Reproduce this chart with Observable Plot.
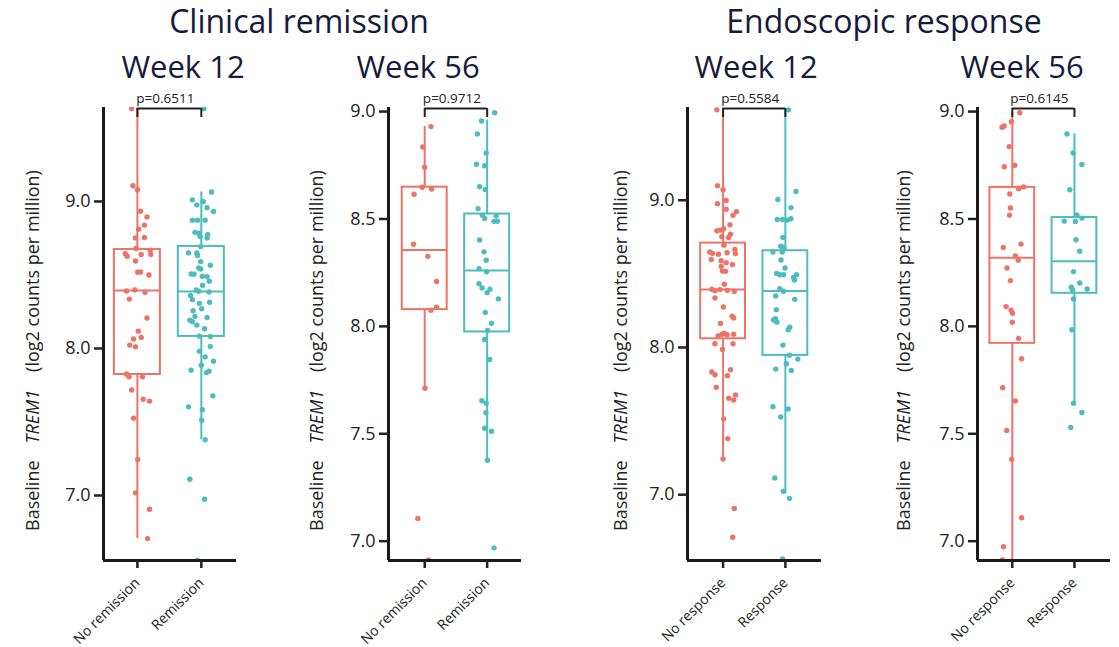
<!DOCTYPE html>
<html>
<head>
<meta charset="utf-8">
<script src="https://cdn.jsdelivr.net/npm/d3@7"></script>
<script src="https://cdn.jsdelivr.net/npm/@observablehq/plot@0.6"></script>
<style>
  html, body { margin: 0; padding: 0; background: #fff; }
  #wrap { position: relative; width: 1119px; height: 647px; overflow: hidden; font-family: "Open Sans", sans-serif; }
  #wrap > svg { position: absolute; top: 0; }
</style>
</head>
<body>
<div id="wrap"></div>
<script>
// ---------------- DATA ----------------
const groupTitles = ["Clinical remission", "Endoscopic response"];
const weekTitles = ["Week 12", "Week 56", "Week 12", "Week 56"];
const catsRemission = ["No remission", "Remission"];
const catsResponse = ["No response", "Response"];
const pValues = ["p=0.6511", "p=0.9712", "p=0.5584", "p=0.6145"];
const yTicksWide = [7, 8, 9];
const yTicksFine = [7, 7.5, 8, 8.5, 9];

// points: [log2 CPM, horizontal jitter (fraction of category spacing)]
const cr12_no = [[9.632,-0.09],[9.107,-0.07],[9.08,0],[8.934,0.05],[8.895,0.15],[8.839,0.11],[8.811,0.02],[8.755,0.11],[8.752,-0.03],[8.68,-0.02],[8.668,0.2],[8.645,-0.19],[8.627,-0.16],[8.639,0.06],[8.639,0.21],[8.595,-0.03],[8.518,0.005],[8.52,0.05],[8.5,0.18],[8.391,-0.17],[8.398,-0.04],[8.382,0.12],[8.336,-0.125],[8.207,0.15],[8.118,0.015],[8.064,-0.06],[8.075,0.06],[8.023,-0.12],[8.011,-0.03],[7.827,-0.17],[7.807,-0.13],[7.807,0.08],[7.718,-0.09],[7.655,0.09],[7.642,0.19],[7.526,-0.06],[7.245,0.005],[7.018,-0.03],[6.907,0.19],[6.707,0.16]];
const cr12_yes = [[9.632,0.04],[9.064,0.16],[9.011,-0.14],[9.0,0.03],[8.977,-0.07],[8.957,0.09],[8.932,0.19],[8.873,-0.14],[8.873,-0.06],[8.873,0.06],[8.79,-0.10],[8.784,-0.04],[8.775,0.10],[8.761,-0.02],[8.752,0.09],[8.693,-0.01],[8.65,-0.20],[8.65,-0.07],[8.632,-0.06],[8.591,-0.01],[8.566,0.14],[8.548,-0.04],[8.541,-0.01],[8.507,-0.16],[8.505,-0.115],[8.491,0.015],[8.489,0.09],[8.457,0.125],[8.43,0.02],[8.398,-0.08],[8.389,-0.04],[8.384,0.12],[8.361,-0.17],[8.332,-0.14],[8.314,0.13],[8.307,-0.03],[8.257,-0.13],[8.27,0.005],[8.218,-0.10],[8.211,0.09],[8.193,-0.18],[8.182,-0.14],[8.159,-0.07],[8.134,0.05],[8.084,-0.03],[8.082,0.14],[7.982,-0.03],[8.014,0.14],[7.943,0.06],[7.914,0.19],[7.852,-0.16],[7.886,0],[7.836,0.08],[7.845,0.12],[7.678,0.18],[7.603,-0.2],[7.583,0.015],[7.512,0.005],[7.379,0.06],[7.111,-0.18],[6.975,0.05],[6.558,-0.06]];
const cr56_no = [[8.93,0.10],[8.835,-0.03],[8.741,0],[8.648,-0.04],[8.639,0.11],[8.615,-0.17],[8.382,-0.18],[8.326,0.05],[8.209,0.19],[8.075,0.10],[8.089,0.19],[7.712,0.005],[7.106,-0.11],[6.913,0.06]];
const cr56_yes = [[8.995,0.12],[8.956,-0.09],[8.896,-0.155],[8.807,-0.015],[8.755,-0.17],[8.748,-0.04],[8.65,-0.12],[8.637,-0.03],[8.548,-0.145],[8.517,-0.075],[8.502,-0.04],[8.514,0.145],[8.489,0.11],[8.489,0.165],[8.402,-0.12],[8.347,-0.05],[8.308,-0.015],[8.269,-0.13],[8.254,-0.01],[8.199,-0.13],[8.179,-0.08],[8.173,0.045],[8.157,0],[8.128,0.18],[8.065,-0.03],[8.014,0.07],[7.981,0.005],[7.939,-0.04],[7.846,0.04],[7.654,-0.085],[7.642,-0.015],[7.598,-0.02],[7.526,-0.04],[7.512,0.07],[7.377,0.005],[6.969,0.11]];
const er12_no = [[9.614,-0.10],[9.099,-0.09],[9.072,0],[8.977,-0.09],[8.998,0.05],[8.939,0.05],[8.923,0.215],[8.898,0.16],[8.833,0.11],[8.792,-0.10],[8.797,-0.05],[8.806,0.01],[8.77,0.12],[8.747,0.09],[8.752,-0.02],[8.695,0.015],[8.648,-0.215],[8.639,-0.17],[8.634,-0.075],[8.643,0.065],[8.666,0.19],[8.637,0.20],[8.598,-0.19],[8.589,-0.03],[8.576,0.05],[8.564,0.15],[8.551,-0.03],[8.519,-0.01],[8.517,0.04],[8.429,0.02],[8.395,-0.18],[8.386,-0.13],[8.393,-0.05],[8.388,0.07],[8.381,0.18],[8.336,-0.13],[8.275,0.005],[8.212,0.145],[8.201,0.17],[8.163,-0.04],[8.09,-0.015],[8.097,0.02],[8.086,0.065],[8.079,-0.08],[8.09,0.17],[8.025,-0.13],[7.986,-0.01],[8.025,0.16],[7.833,-0.18],[7.815,-0.13],[7.808,0.07],[7.849,0.12],[7.729,-0.11],[7.655,0.09],[7.643,0.17],[7.677,0.20],[7.515,0.01],[7.381,0.075],[7.242,0],[6.907,0.18],[6.711,0.155]];
const er12_yes = [[9.614,0.05],[9.059,0.17],[9.005,-0.12],[8.95,0.09],[8.869,-0.13],[8.869,-0.05],[8.865,0.03],[8.874,0.09],[8.747,-0.04],[8.688,-0.075],[8.679,-0.025],[8.648,-0.2],[8.648,-0.05],[8.594,-0.07],[8.54,-0.005],[8.503,-0.14],[8.494,-0.09],[8.494,-0.03],[8.476,0.13],[8.494,0.18],[8.458,0.145],[8.4,-0.09],[8.382,-0.03],[8.35,-0.155],[8.327,0.15],[8.257,-0.145],[8.196,-0.16],[8.187,-0.19],[8.172,-0.135],[8.138,0.07],[8.12,0.045],[8.016,-0.04],[7.948,0.065],[7.921,0.2],[7.853,-0.155],[7.889,0.015],[7.844,0.095],[7.598,-0.2],[7.528,-0.075],[7.582,0.045],[7.113,-0.17],[7.023,-0.03],[6.975,0.065],[6.564,-0.045]];
const er56_no = [[8.995,0.12],[8.953,-0.015],[8.927,-0.165],[8.933,-0.13],[8.837,-0.05],[8.743,-0.13],[8.75,0.04],[8.641,0.10],[8.649,0.18],[8.616,-0.04],[8.551,-0.03],[8.518,-0.045],[8.367,-0.145],[8.383,0.14],[8.328,0.05],[8.308,0.095],[8.272,-0.085],[8.213,-0.03],[8.092,-0.10],[8.075,-0.02],[8.061,0.005],[8.019,0],[7.944,0.10],[7.849,0.15],[7.714,-0.155],[7.653,0.05],[7.515,-0.09],[7.381,-0.01],[7.109,0.15],[6.974,-0.14],[6.913,-0.16]];
const er56_yes = [[8.896,-0.12],[8.807,-0.02],[8.754,0.12],[8.636,-0.075],[8.518,0.04],[8.504,0.12],[8.49,-0.165],[8.488,0.015],[8.403,0.025],[8.35,0.085],[8.255,-0.015],[8.182,-0.05],[8.202,0.085],[8.17,-0.03],[8.174,0.205],[8.128,-0.015],[7.984,-0.04],[7.642,-0.015],[7.599,0.12],[7.529,-0.06]];

// box summaries: [lower whisker, Q1, median, Q3, upper whisker]
const cr12_box = [[6.707, 7.823, 8.395, 8.673, 9.632], [7.379, 8.082, 8.388, 8.694, 9.064]];
const cr56_box = [[7.712, 8.078, 8.355, 8.648, 8.93], [7.377, 7.974, 8.26, 8.523, 8.961]];
const er12_box = [[7.242, 8.059, 8.393, 8.709, 9.614], [7.007, 7.946, 8.384, 8.657, 9.614]];
const er56_box = [[6.85, 7.921, 8.32, 8.647, 8.995], [7.642, 8.154, 8.303, 8.507, 8.896]];

// ---------------- LAYOUT / STYLE ----------------
const RED = "#EC7467", TEAL = "#4CBDBF", INK = "#222", NAVY = "#161b3d";
const H = 647, MT = 107, MB = 87;
const panels = [
  {left: 0,   width: 260, ml: 103, mr: 24, xd: [-0.53, 1.55],  yd: [6.558, 9.639], ticks: yTicksWide, cats: catsRemission, pts: [cr12_no, cr12_yes], box: cr12_box, p: pValues[0], lx: 39},
  {left: 290, width: 250, ml: 98,  mr: 19, xd: [-0.58, 1.55],  yd: [6.91, 9.019],  ticks: yTicksFine, cats: catsRemission, pts: [cr56_no, cr56_yes], box: cr56_box, p: pValues[1], lx: 33},
  {left: 580, width: 260, ml: 107, mr: 19, xd: [-0.571, 1.58], yd: [6.553, 9.63],  ticks: yTicksWide, cats: catsResponse,  pts: [er12_no, er12_yes], box: er12_box, p: pValues[2], lx: 47},
  {left: 870, width: 249, ml: 107, mr: 9,  xd: [-0.56, 1.58],  yd: [6.91, 9.019],  ticks: yTicksFine, cats: catsResponse,  pts: [er56_no, er56_yes], box: er56_box, p: pValues[3], lx: 40}
];

const wrap = document.getElementById("wrap");
const colors = [RED, TEAL];
const HW = 0.36;

panels.forEach((P) => {
  const dots = P.pts.flatMap((arr, g) => arr.map(([v, j]) => ({x: g + j, y: v, g})));
  const boxes = P.box.map(([lo, q1, med, q3, hi], g) => ({g, lo, q1, med, q3, hi}));
  const ymax = P.yd[1], ymin = P.yd[0];
  const ppu = (H - MT - MB) / (ymax - ymin);
  const chart = Plot.plot({
    width: P.width, height: H,
    marginTop: MT, marginBottom: MB, marginLeft: P.ml, marginRight: P.mr,
    style: {fontFamily: "Open Sans", color: INK, background: "transparent", overflow: "visible"},
    x: {domain: P.xd},
    y: {domain: P.yd},
    marks: [
      Plot.ruleX(boxes, {x: "g", y1: "q3", y2: "hi", stroke: d => colors[d.g], strokeWidth: 2, clip: true}),
      Plot.ruleX(boxes, {x: "g", y1: "lo", y2: "q1", stroke: d => colors[d.g], strokeWidth: 2, clip: true}),
      Plot.rect(boxes, {x1: d => d.g - HW, x2: d => d.g + HW, y1: "q1", y2: "q3", fill: "white", stroke: d => colors[d.g], strokeWidth: 2}),
      Plot.ruleY(boxes, {y: "med", x1: d => d.g - HW, x2: d => d.g + HW, stroke: d => colors[d.g], strokeWidth: 2}),
      Plot.dot(dots, {x: "x", y: "y", r: 2.7, fill: d => colors[d.g], stroke: "none", clip: true}),
      Plot.ruleY([ymax], {x1: 0, x2: 1, stroke: INK, strokeWidth: 2, dy: 1}),
      Plot.ruleX([0, 1], {y1: ymax, y2: ymax - 9 / ppu, stroke: INK, strokeWidth: 2, dy: 1}),
      Plot.text([P.p], {x: 0.5, y: ymax, text: d => d, dy: -9, dx: -4, fontSize: 13.5, fill: INK}),
      Plot.ruleX([P.xd[0]], {stroke: "#1a1a1a", strokeWidth: 3}),
      Plot.ruleY([ymin], {stroke: "#1a1a1a", strokeWidth: 3}),
      Plot.axisY({ticks: P.ticks, tickFormat: d3.format(".1f"), tickSize: 9, tickPadding: 4, fontSize: 18, strokeWidth: 2.5, label: null}),
      Plot.axisX({ticks: [0, 1], tickFormat: i => P.cats[i], tickRotate: -45, tickSize: 8, tickPadding: 12, fontSize: 14, strokeWidth: 2.5, label: null})
    ]
  });
  chart.style.left = P.left + "px";
  const svg = d3.select(chart);
  const t = svg.append("text")
    .attr("transform", `translate(${P.lx},531) rotate(-90)`)
    .attr("text-anchor", "start")
    .attr("font-size", 18).attr("fill", INK).attr("font-family", "Open Sans");
  t.append("tspan").text("Baseline");
  t.append("tspan").attr("dx", 17).attr("font-style", "italic").text("TREM1");
  t.append("tspan").attr("dx", 18).text("(log2 counts per million)");
  wrap.appendChild(chart);
});

// titles overlay
const tsvg = d3.select(wrap).append("svg")
  .attr("width", 1119).attr("height", 90)
  .style("position", "absolute").style("left", "0px").style("top", "0px")
  .attr("font-family", "Open Sans").attr("fill", NAVY);
const titleSpots = [[299, 33, groupTitles[0], 32], [884, 33, groupTitles[1], 32],
  [183, 78, weekTitles[0], 31], [418, 78, weekTitles[1], 31], [756, 78, weekTitles[2], 31], [1022, 78, weekTitles[3], 31]];
titleSpots.forEach(([x, y, s, fs]) => {
  tsvg.append("text").attr("x", x).attr("y", y).attr("text-anchor", "middle").attr("font-size", fs).text(s);
});
</script>
</body>
</html>
